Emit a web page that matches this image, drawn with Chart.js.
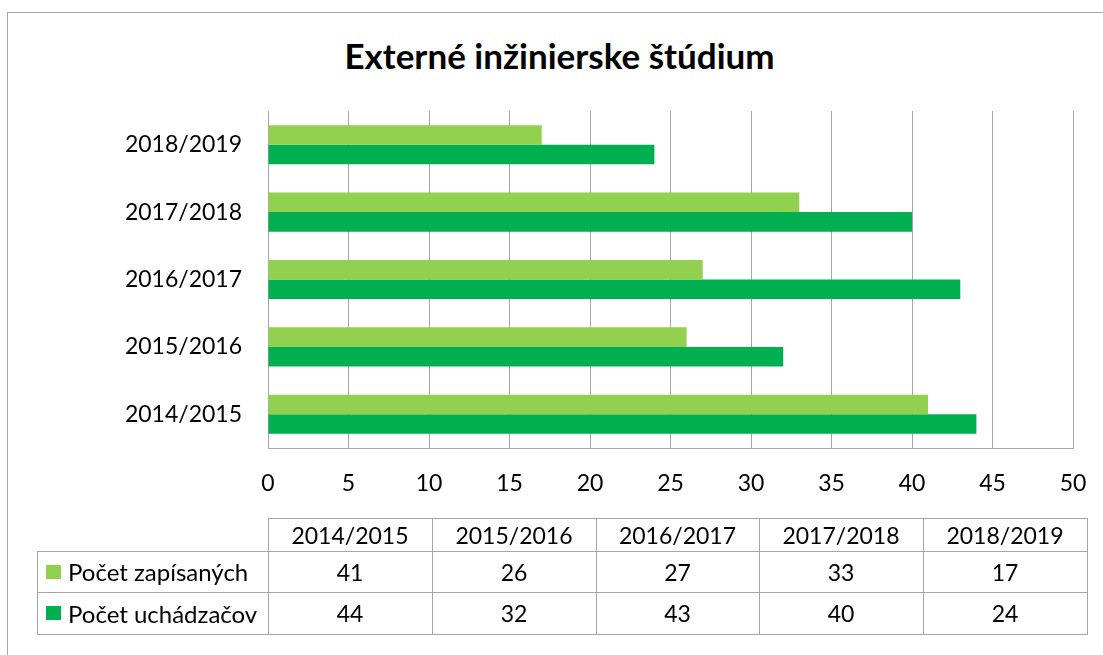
<!DOCTYPE html>
<html>
<head>
<meta charset="utf-8">
<script src="https://cdn.jsdelivr.net/npm/chart.js@4/dist/chart.umd.min.js"></script>
<style>
  html, body { margin: 0; padding: 0; background: #fff; }
  #wrap { position: relative; width: 1103px; height: 655px; overflow: hidden; font-family: Lato, "Liberation Sans", sans-serif; color: #000; }
  #frame { position: absolute; left: 7px; top: 12px; width: 1200px; height: 800px; border: 1px solid #A6A6A6; box-sizing: border-box; }
  #title { position: absolute; left: 8px; width: 1103px; top: 35px; text-align: center; font-weight: bold; font-size: 35px; line-height: 40px; }
  canvas { position: absolute; left: 0; top: 0; }
  .cell { position: absolute; box-sizing: border-box; display: flex; align-items: center; justify-content: center; font-size: 23px; white-space: nowrap; }
  .leg { justify-content: flex-start; padding-left: 9px; font-size: 24px; }
  .sw { display: inline-block; width: 15px; height: 14px; margin-right: 7px; }
  .line { position: absolute; background: #A6A6A6; }
</style>
</head>
<body>
<div id="wrap">
  <div id="frame"></div>
  <div id="title">Externé inžinierske štúdium</div>
  <canvas id="c" width="1103" height="655"></canvas>
  <div id="table"></div>
</div>
<script>
const categories = ['2014/2015', '2015/2016', '2016/2017', '2017/2018', '2018/2019'];
const seriesNames = ['Počet zapísaných', 'Počet uchádzačov'];
const zapisanych = [41, 26, 27, 33, 17];
const uchadzacov = [44, 32, 43, 40, 24];
const xTicks = [0, 5, 10, 15, 20, 25, 30, 35, 40, 45, 50];
const colors = ['#92D050', '#00B050'];
const seriesValues = [zapisanych, uchadzacov];

const PLOT_LEFT = 268, PLOT_RIGHT = 1073, PLOT_TOP = 111, PLOT_BOTTOM = 448;
const W = 1103, H = 655;

new Chart(document.getElementById('c'), {
  type: 'bar',
  data: {
    labels: categories,
    datasets: seriesNames.map((n, i) => ({
      label: n,
      data: seriesValues[i],
      backgroundColor: colors[i],
      borderWidth: 0,
      barPercentage: 1,
      categoryPercentage: 0.58
    }))
  },
  options: {
    indexAxis: 'y',
    responsive: false,
    animation: false,
    layout: { padding: { left: 0, right: W - PLOT_RIGHT, top: PLOT_TOP, bottom: 0 } },
    plugins: { legend: { display: false }, title: { display: false }, tooltip: { enabled: false } },
    scales: {
      x: {
        min: 0, max: 50,
        afterBuildTicks: s => { s.ticks = xTicks.map(v => ({ value: v })); },
        afterFit: s => { s.height = H - PLOT_BOTTOM; },
        grid: { color: '#A6A6A6', lineWidth: 1, drawTicks: true, tickLength: 22, tickColor: 'rgba(0,0,0,0)' },
        border: { display: true, color: '#A6A6A6', width: 1 },
        ticks: { padding: 0, color: '#000', font: { family: 'Lato', size: 23 }, maxRotation: 0 }
      },
      y: {
        reverse: true,
        afterFit: s => { s.width = PLOT_LEFT; },
        grid: { display: false, drawTicks: false },
        border: { display: true, color: '#A6A6A6', width: 1 },
        ticks: { padding: 26, color: '#000', font: { family: 'Lato', size: 23 } }
      }
    }
  }
});

// data table below the chart
(function () {
  const t = document.getElementById('table');
  const colX = [268, 432, 596, 759, 923, 1087];
  const rowY = [518, 551, 592, 634];
  const legLeft = 37;
  function cell(x, y, w, h, html, cls) {
    const d = document.createElement('div');
    d.className = 'cell' + (cls ? ' ' + cls : '');
    d.style.left = x + 'px'; d.style.top = y + 'px'; d.style.width = w + 'px'; d.style.height = h + 'px';
    d.innerHTML = html;
    t.appendChild(d);
  }
  function line(x, y, w, h) {
    const d = document.createElement('div');
    d.className = 'line';
    d.style.left = x + 'px'; d.style.top = y + 'px'; d.style.width = w + 'px'; d.style.height = h + 'px';
    t.appendChild(d);
  }
  categories.forEach((c, i) => cell(colX[i], rowY[0], colX[i + 1] - colX[i], rowY[1] - rowY[0], c));
  seriesNames.forEach((n, r) => {
    cell(legLeft, rowY[r + 1], colX[0] - legLeft, rowY[r + 2] - rowY[r + 1],
      '<span class="sw" style="background:' + colors[r] + '"></span>' + n, 'leg');
    seriesValues[r].forEach((v, i) => cell(colX[i], rowY[r + 1], colX[i + 1] - colX[i], rowY[r + 2] - rowY[r + 1], String(v)));
  });
  line(colX[0], rowY[0], colX[5] - colX[0] + 1, 1);
  line(legLeft, rowY[1], colX[5] - legLeft + 1, 1);
  line(legLeft, rowY[2], colX[5] - legLeft + 1, 1);
  line(legLeft, rowY[3], colX[5] - legLeft + 1, 1);
  line(legLeft, rowY[1], 1, rowY[3] - rowY[1] + 1);
  colX.forEach(x => line(x, rowY[0], 1, rowY[3] - rowY[0] + 1));
})();
</script>
</body>
</html>
